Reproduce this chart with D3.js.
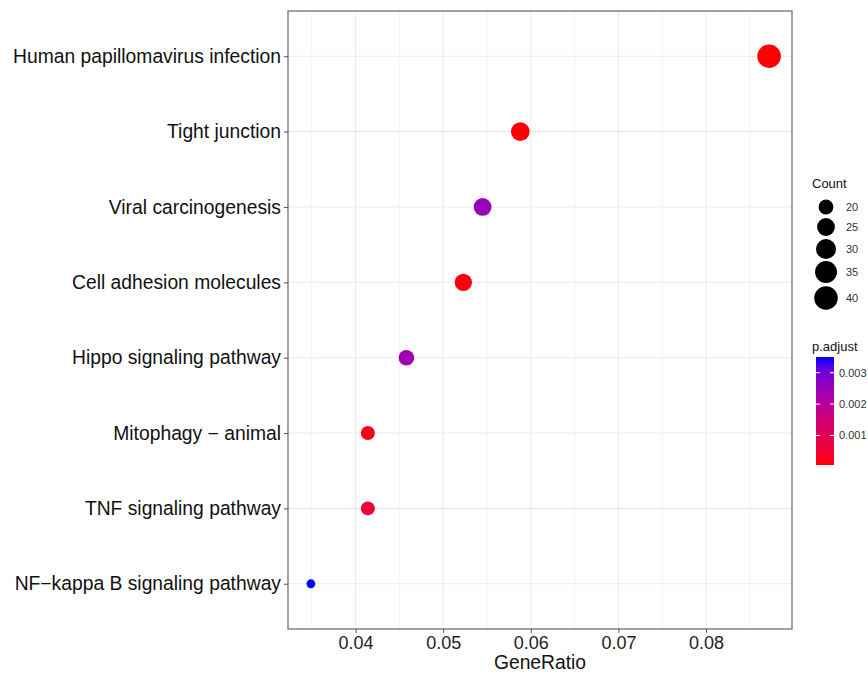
<!DOCTYPE html>
<html>
<head>
<meta charset="utf-8">
<script src="https://cdn.jsdelivr.net/npm/d3@7"></script>
<style>
  body { margin: 0; background: #fff; }
  svg { font-family: "Liberation Sans", Arial, sans-serif; }
</style>
</head>
<body>
<div id="chart"></div>
<script>
// pathways, top to bottom
const pathways = [
  "Human papillomavirus infection",
  "Tight junction",
  "Viral carcinogenesis",
  "Cell adhesion molecules",
  "Hippo signaling pathway",
  "Mitophagy - animal",
  "TNF signaling pathway",
  "NF-kappa B signaling pathway"
];
const geneRatio = [0.0872, 0.0588, 0.0545, 0.0523, 0.0458, 0.0414, 0.0414, 0.0349];
const counts = [40, 27, 25, 24, 21, 19, 19, 16];
const pAdjust = [0.00006, 0.00008, 0.0025, 0.00015, 0.0024, 0.00022, 0.0006, 0.0035];

const xTicks = [0.04, 0.05, 0.06, 0.07, 0.08];
const xMinor = [0.035, 0.045, 0.055, 0.065, 0.075, 0.085];
const countBreaks = [20, 25, 30, 35, 40];
const pBreaks = [0.001, 0.002, 0.003];

const W = 868, H = 675;
const panel = { left: 288, right: 792, top: 11, bottom: 629 };

const svg = d3.select("#chart").append("svg")
  .attr("width", W)
  .attr("height", H);

// scales
const xMin = d3.min(geneRatio), xMax = d3.max(geneRatio);
const pad = (xMax - xMin) * 0.05;
const x = d3.scaleLinear()
  .domain([xMin - pad, xMax + pad])
  .range([panel.left, panel.right]);

const y = d3.scalePoint()
  .domain(pathways)
  .range([panel.top, panel.bottom])
  .padding(0.6);

// ggplot-like size: range(3, 8) on sqrt of rescaled count
const cMin = d3.min(counts), cMax = d3.max(counts);
const sizeScale = d3.scalePow().exponent(0.5)
  .domain([0, cMax - cMin])
  .range([3, 8]);
const radius = c => sizeScale(c - cMin) * 1.47;

const pMin = 0.00006, pMax = 0.0035;
const color = d3.scaleLinear()
  .domain([pMin, pMax])
  .range(["#ff0000", "#0000ff"])
  .interpolate(d3.interpolateLab);

// grid
const grid = svg.append("g");
grid.selectAll(".minor").data(xMinor).enter().append("line")
  .attr("x1", d => x(d)).attr("x2", d => x(d))
  .attr("y1", panel.top).attr("y2", panel.bottom)
  .attr("stroke", "#EBEBEB").attr("stroke-width", 0.6);
grid.selectAll(".major").data(xTicks).enter().append("line")
  .attr("x1", d => x(d)).attr("x2", d => x(d))
  .attr("y1", panel.top).attr("y2", panel.bottom)
  .attr("stroke", "#EBEBEB").attr("stroke-width", 1.1);
grid.selectAll(".ymajor").data(pathways).enter().append("line")
  .attr("x1", panel.left).attr("x2", panel.right)
  .attr("y1", d => y(d)).attr("y2", d => y(d))
  .attr("stroke", "#EBEBEB").attr("stroke-width", 1.1);

// points
svg.append("g").selectAll("circle")
  .data(pathways)
  .enter().append("circle")
    .attr("cx", (d, i) => x(geneRatio[i]))
    .attr("cy", d => y(d))
    .attr("r", (d, i) => radius(counts[i]))
    .attr("fill", (d, i) => color(pAdjust[i]));

// panel border
svg.append("rect")
  .attr("x", panel.left).attr("y", panel.top)
  .attr("width", panel.right - panel.left)
  .attr("height", panel.bottom - panel.top)
  .attr("fill", "none").attr("stroke", "#555").attr("stroke-width", 1.1);

// axes
const xAxis = svg.append("g")
  .attr("transform", "translate(0," + panel.bottom + ")")
  .call(d3.axisBottom(x).tickValues(xTicks).tickSize(4).tickPadding(3).tickFormat(d3.format(".2f")));
xAxis.select(".domain").remove();
xAxis.selectAll("line").attr("stroke", "#555");
xAxis.selectAll("text").attr("font-size", 18).attr("fill", "#222")
  .attr("font-family", "Liberation Sans, Arial, sans-serif");

const yAxis = svg.append("g")
  .attr("transform", "translate(" + panel.left + ",0)")
  .call(d3.axisLeft(y).tickSize(4).tickPadding(3).tickFormat(d => d.replace(/-/g, "\u2212")));
yAxis.select(".domain").remove();
yAxis.selectAll("line").attr("stroke", "#555");
yAxis.selectAll("text").attr("font-size", 19.3).attr("fill", "#111")
  .attr("font-family", "Liberation Sans, Arial, sans-serif");

svg.append("text")
  .attr("x", (panel.left + panel.right) / 2)
  .attr("y", 669)
  .attr("text-anchor", "middle")
  .attr("font-size", 19.3)
  .attr("fill", "#111")
  .text("GeneRatio");

// size legend
const sizeLeg = svg.append("g");
sizeLeg.append("text")
  .attr("x", 812).attr("y", 188)
  .attr("font-size", 13).attr("fill", "#111")
  .text("Count");
const legY = [207, 227, 249, 272, 298];
sizeLeg.selectAll("circle").data(countBreaks).enter().append("circle")
  .attr("cx", 826)
  .attr("cy", (d, i) => legY[i])
  .attr("r", d => radius(d))
  .attr("fill", "#000");
sizeLeg.selectAll(".lab").data(countBreaks).enter().append("text")
  .attr("x", 846)
  .attr("y", (d, i) => legY[i] + 4)
  .attr("font-size", 11).attr("fill", "#333")
  .text(d => d);

// colour bar
const bar = { x: 816, y: 357, w: 18, h: 108 };
const defs = svg.append("defs");
const grad = defs.append("linearGradient")
  .attr("id", "pgrad")
  .attr("x1", 0).attr("y1", 1).attr("x2", 0).attr("y2", 0);
d3.range(0, 1.0001, 0.1).forEach(t => {
  grad.append("stop")
    .attr("offset", t)
    .attr("stop-color", color(pMin + t * (pMax - pMin)));
});
const cbar = svg.append("g");
cbar.append("text")
  .attr("x", 812).attr("y", 351)
  .attr("font-size", 13).attr("fill", "#111")
  .text("p.adjust");
cbar.append("rect")
  .attr("x", bar.x).attr("y", bar.y)
  .attr("width", bar.w).attr("height", bar.h)
  .attr("fill", "url(#pgrad)");
const pY = d3.scaleLinear().domain([pMin, pMax]).range([bar.y + bar.h, bar.y]);
pBreaks.forEach(p => {
  cbar.append("line")
    .attr("x1", bar.x).attr("x2", bar.x + 4)
    .attr("y1", pY(p)).attr("y2", pY(p))
    .attr("stroke", "#fff").attr("stroke-width", 1);
  cbar.append("line")
    .attr("x1", bar.x + bar.w - 4).attr("x2", bar.x + bar.w)
    .attr("y1", pY(p)).attr("y2", pY(p))
    .attr("stroke", "#fff").attr("stroke-width", 1);
  cbar.append("text")
    .attr("x", bar.x + bar.w + 5)
    .attr("y", pY(p) + 4)
    .attr("font-size", 11).attr("fill", "#333")
    .text(d3.format(".3f")(p));
});
</script>
</body>
</html>
